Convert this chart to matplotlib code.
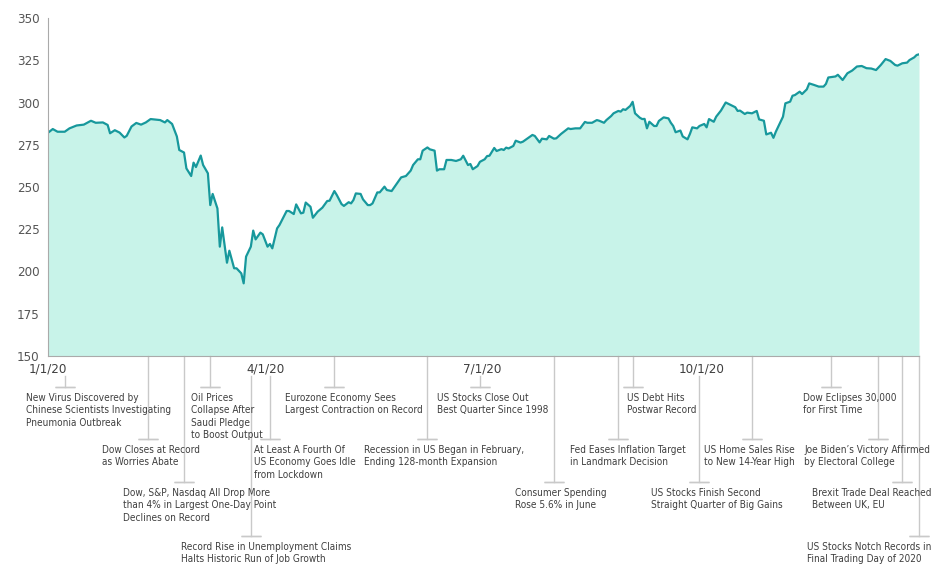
import matplotlib
matplotlib.use("Agg")
import matplotlib.pyplot as plt
import matplotlib.transforms as mtransforms
import pandas as pd

# ---------------------------------------------------------------------
# Data
# ---------------------------------------------------------------------

# trading days as day offset from 1 Jan 2020, and index level
days = [0, 2, 4, 7, 9, 12, 15, 18, 20, 23, 25, 26, 28, 30, 32, 33, 35, 37, 39, 41,
        43, 47, 49, 50, 52, 54, 55, 57, 58, 60, 61, 62, 64, 65, 67, 68, 69, 71, 72, 73,
        75, 76, 78, 79, 81, 82, 83, 85, 86, 87, 89, 90, 92, 93, 94, 96, 97, 100, 101, 103,
        104, 106, 107, 108, 110, 111, 113, 115, 117, 118, 120, 121, 123, 124, 126, 127, 128, 129, 131, 132,
        134, 135, 136, 138, 139, 141, 142, 144, 145, 147, 148, 150, 152, 153, 155, 156, 157, 159, 160, 162,
        163, 164, 166, 167, 169, 171, 173, 174, 176, 177, 178, 180, 181, 183, 184, 185, 187, 188, 190, 191,
        192, 193, 195, 196, 198, 199, 201, 203, 204, 206, 207, 209, 210, 212, 213, 215, 218, 219, 221, 223,
        225, 226, 228, 230, 231, 233, 234, 236, 237, 239, 240, 241, 242, 244, 245, 246, 248, 249, 250, 251,
        252, 254, 255, 256, 258, 260, 261, 262, 263, 265, 266, 268, 269, 270, 272, 273, 275, 276, 277, 279,
        280, 282, 284, 286, 288, 289, 290, 292, 293, 295, 297, 298, 300, 301, 303, 304, 305, 308, 309, 311,
        312, 313, 315, 316, 318, 319, 321, 323, 325, 326, 327, 330, 331, 333, 335, 337, 339, 341, 343, 345,
        347, 349, 351, 353, 355, 356, 358, 360, 361, 363, 364, 365]
values = [282.1, 284.3, 282.7, 282.7, 284.7, 286.4, 286.9, 289.2, 288.0, 288.2, 286.7, 281.8, 283.6, 282.2, 279.3, 280.3, 285.8, 287.9, 286.9, 288.2,
          290.2, 289.6, 288.2, 289.6, 287.3, 279.9, 271.9, 270.4, 261.0, 256.5, 264.4, 261.8, 268.6, 263.0, 258.1, 239.3, 245.9, 237.3, 214.7, 226.1,
          205.2, 212.3, 201.9, 201.9, 198.9, 193.0, 208.8, 214.7, 224.2, 219.0, 223.0, 222.0, 214.7, 216.3, 213.7, 225.5, 227.5, 235.8, 235.8, 234.0,
          239.7, 234.4, 234.8, 240.8, 238.3, 231.8, 235.4, 237.8, 241.7, 241.9, 247.6, 245.3, 239.9, 238.8, 241.0, 240.3, 242.3, 246.2, 245.9, 242.7,
          239.3, 239.3, 240.3, 246.8, 246.8, 250.2, 248.2, 247.6, 249.6, 253.6, 255.7, 256.5, 259.7, 263.0, 266.4, 266.4, 271.5, 273.4, 272.3, 271.5,
          259.7, 260.5, 260.5, 266.0, 266.0, 265.4, 266.4, 268.5, 263.0, 263.6, 260.5, 262.4, 264.9, 266.4, 268.3, 268.5, 273.1, 271.3, 272.4, 271.9,
          273.3, 272.8, 274.3, 277.4, 276.3, 276.8, 278.8, 280.8, 280.2, 276.4, 278.6, 278.2, 280.2, 278.6, 278.8, 281.4, 284.7, 284.3, 284.7, 284.7,
          288.5, 288.0, 288.0, 289.6, 289.2, 288.0, 289.6, 292.0, 293.6, 295.0, 294.6, 296.0, 295.6, 298.0, 300.4, 293.6, 291.0, 290.2, 290.3, 284.7,
          288.6, 286.1, 286.1, 289.1, 291.2, 290.6, 288.0, 286.1, 282.4, 283.4, 279.9, 278.2, 281.4, 285.3, 284.7, 286.1, 287.3, 285.3, 290.2, 288.6,
          291.6, 295.2, 300.0, 298.6, 297.2, 295.0, 295.2, 293.2, 294.0, 293.6, 295.0, 290.0, 289.2, 281.1, 282.1, 279.1, 282.7, 291.6, 299.5, 300.5,
          304.0, 304.4, 306.4, 305.0, 307.8, 311.3, 310.4, 309.4, 309.4, 311.0, 314.8, 315.4, 316.4, 313.3, 317.3, 318.9, 321.3, 321.6, 320.3, 320.1,
          319.2, 322.2, 325.7, 324.6, 322.2, 321.8, 323.2, 323.6, 325.1, 326.7, 328.1, 328.5]

tick_dates = ["2020-01-01", "2020-04-01", "2020-07-01", "2020-10-01"]
tick_labels = ["1/1/20", "4/1/20", "7/1/20", "10/1/20"]
y_ticks = [150, 175, 200, 225, 250, 275, 300, 325, 350]

event_dates = ["2020-01-08", "2020-02-12", "2020-02-27", "2020-03-09", "2020-03-26",
               "2020-04-03", "2020-04-30", "2020-06-08", "2020-06-30", "2020-07-31",
               "2020-08-27", "2020-09-02", "2020-09-30", "2020-10-22", "2020-11-24",
               "2020-12-14", "2020-12-24", "2020-12-31"]
event_texts = [
    "New Virus Discovered by\nChinese Scientists Investigating\nPneumonia Outbreak",
    "Dow Closes at Record\nas Worries Abate",
    "Dow, S&P, Nasdaq All Drop More\nthan 4% in Largest One-Day Point\nDeclines on Record",
    "Oil Prices\nCollapse After\nSaudi Pledge\nto Boost Output",
    "Record Rise in Unemployment Claims\nHalts Historic Run of Job Growth",
    "At Least A Fourth Of\nUS Economy Goes Idle\nfrom Lockdown",
    "Eurozone Economy Sees\nLargest Contraction on Record",
    "Recession in US Began in February,\nEnding 128-month Expansion",
    "US Stocks Close Out\nBest Quarter Since 1998",
    "Consumer Spending\nRose 5.6% in June",
    "Fed Eases Inflation Target\nin Landmark Decision",
    "US Debt Hits\nPostwar Record",
    "US Stocks Finish Second\nStraight Quarter of Big Gains",
    "US Home Sales Rise\nto New 14-Year High",
    "Dow Eclipses 30,000\nfor First Time",
    "Joe Biden\u2019s Victory Affirmed\nby Electoral College",
    "Brexit Trade Deal Reached\nBetween UK, EU",
    "US Stocks Notch Records in\nFinal Trading Day of 2020",
]

# layout of the callouts: row (0 = top) and text shift left of the line, px
event_rows = [0, 1, 2, 0, 3, 1, 0, 1, 0, 2, 1, 0, 2, 1, 0, 1, 2, 3]
event_dx = [-39, -46, -61, -19, -70, -16, -49, -63, -43, -39, -48, -6, -48, -48, -28, -74, -82, -91]

# ---------------------------------------------------------------------
# Visualize
# ---------------------------------------------------------------------

FONT = dict(family="DejaVu Sans", stretch="condensed")
LINE = "#17989c"
FILL = "#c8f3e9"
GREY = "#c9c9c9"
TXT = "#3f3f3f"
RIGHT_EDGE = 931  # px, keep callout text inside the picture

start = pd.Timestamp("2020-01-01")
dates = start + pd.to_timedelta(days, unit="D")

fig = plt.figure(figsize=(9.37, 5.64), dpi=100)
ax = fig.add_axes([48 / 937, 208 / 564, 871 / 937, 338 / 564])

ax.fill_between(dates, values, 150, color=FILL, lw=0)
ax.plot(dates, values, color=LINE, lw=1.6)

ax.set_xlim(start, pd.Timestamp("2020-12-31"))
ax.set_ylim(150, 350)
ax.set_yticks(y_ticks)
ax.set_yticklabels([str(v) for v in y_ticks], fontsize=9.5, color="#555555", **FONT)
ax.set_xticks(pd.to_datetime(tick_dates))
ax.set_xticklabels(tick_labels, fontsize=9.5, color=TXT, **FONT)
ax.tick_params(axis="both", length=0)
ax.tick_params(axis="y", pad=6)
ax.tick_params(axis="x", pad=5)
for side in ["top", "right"]:
    ax.spines[side].set_visible(False)
ax.spines["left"].set_color("#aaaaaa")
ax.spines["bottom"].set_color("#aaaaaa")

# callouts below the axis
trans = mtransforms.blended_transform_factory(ax.transData, ax.transAxes)
row_cap = [-31 / 338, -83 / 338, -126 / 338, -180 / 338]
ev = pd.to_datetime(event_dates)
ticks = pd.to_datetime(tick_dates)
renderer = fig.canvas.get_renderer()
for d, text, row, dx in zip(ev, event_texts, event_rows, event_dx):
    # start below a date label when the line runs through it
    near_label = min(abs((d - t).days) for t in ticks) < 10 and d != start
    y0 = -20 / 338 if near_label else 0
    y1 = row_cap[row]
    ax.plot([d, d], [y0, y1], color=GREY, lw=1, transform=trans, clip_on=False)
    ax.plot([d, d], [y1, y1], color=GREY, lw=1, transform=trans, clip_on=False,
            marker="_", markersize=15, markeredgewidth=1)
    t = ax.text(d, y1, text, ha="left", va="top", fontsize=7.2, color=TXT,
                linespacing=1.3, **FONT,
                transform=mtransforms.offset_copy(trans, fig=fig, x=dx, y=-6, units="dots"))
    over = t.get_window_extent(renderer).x1 - RIGHT_EDGE
    if over > 0:
        t.set_transform(mtransforms.offset_copy(trans, fig=fig, x=dx - over, y=-6, units="dots"))

plt.savefig("out.png", dpi=100)
